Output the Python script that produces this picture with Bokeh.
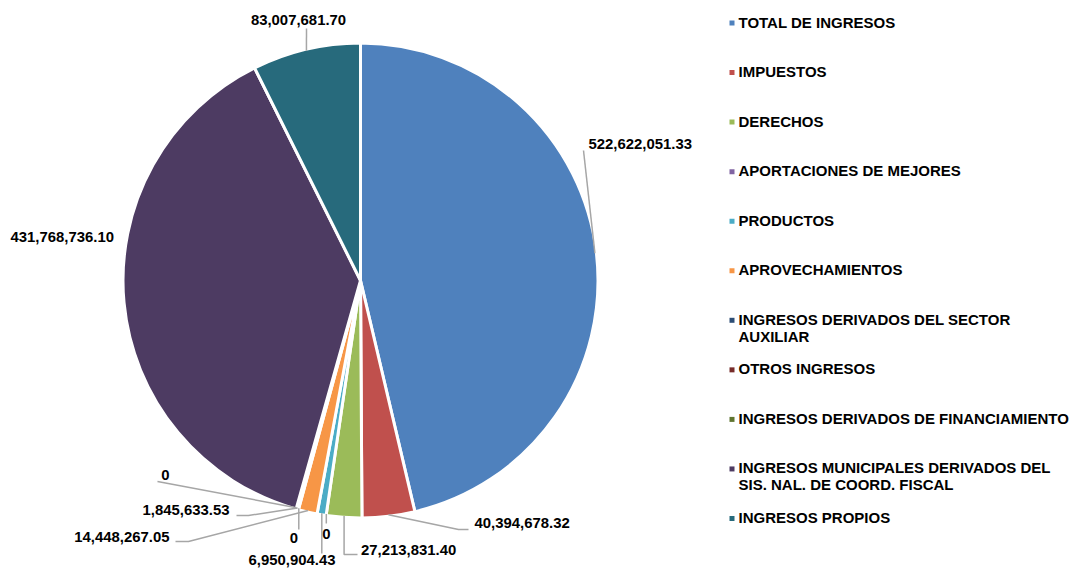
import math
from bokeh.plotting import figure
from bokeh.models import Range1d, ColumnDataSource
from bokeh.core.properties import value
from bokeh.embed import file_html
from bokeh.resources import INLINE

# ---------------- data ----------------
categories = [
    "TOTAL DE INGRESOS",
    "IMPUESTOS",
    "DERECHOS",
    "APORTACIONES DE MEJORES",
    "PRODUCTOS",
    "APROVECHAMIENTOS",
    "INGRESOS DERIVADOS DEL SECTOR\nAUXILIAR",
    "OTROS INGRESOS",
    "INGRESOS DERIVADOS DE FINANCIAMIENTO",
    "INGRESOS MUNICIPALES DERIVADOS DEL\nSIS. NAL. DE COORD. FISCAL",
    "INGRESOS PROPIOS",
]
values = [522622051.33, 40394678.32, 27213831.40, 0, 6950904.43, 14448267.05,
          0, 1845633.53, 0, 431768736.10, 83007681.70]
colors = ["#4F81BD", "#C0504D", "#9BBB59", "#8064A2", "#4BACC6", "#F79646",
          "#2C4D75", "#772C2A", "#5F7530", "#4D3B62", "#276A7C"]

# ---------------- layout ----------------
CX, CY, R = 360.0, 280.0, 236.0
FONT = value("Liberation Sans")
LEADER = "#A6A6A6"
TDY = 6.5  # correction: rendered text sits lower than the given baseline

p = figure(width=1075, height=572, output_backend="svg", toolbar_location=None,
           x_range=Range1d(0, 1075), y_range=Range1d(-572, 0),
           x_axis_location=None, y_axis_location=None, min_border=0,
           outline_line_color=None, background_fill_color="white",
           border_fill_color="white")
p.xgrid.visible = False
p.ygrid.visible = False

total = float(sum(values))
cum = [0.0]
for v in values:
    cum.append(cum[-1] + v / total)

# slices (clockwise from 12 o'clock)
wx, wy, ws, we, wc = [], [], [], [], []
for i, v in enumerate(values):
    if v <= 0:
        continue
    wx.append(CX); wy.append(-CY)
    ws.append(math.pi / 2 - 2 * math.pi * cum[i + 1])
    we.append(math.pi / 2 - 2 * math.pi * cum[i])
    wc.append(colors[i])
p.wedge(x="x", y="y", radius=R + 1.5, start_angle="s", end_angle="e",
        fill_color="c", line_color="white", line_width=3,
        source=ColumnDataSource(dict(x=wx, y=wy, s=ws, e=we, c=wc)))

# data labels: (text x, baseline y, align, leader points after anchor; None => anchor x)
label_layout = [
    (588, 150, "left", [(583, 150)]),
    (474, 529, "left", [(458, 529), (468, 529)]),
    (360.5, 556, "left", [(None, 554), (357, 554)]),
    (326, 540, "center", [(None, 523)]),
    (291.5, 566, "center", [(None, 553)]),
    (169, 543, "right", [(188, 541), (175, 541)]),
    (293.5, 544, "center", [(None, 529)]),
    (229, 516, "right", [(248, 515), (236, 515)]),
    (165, 481, "center", [(157, 481)]),
    (10, 243, "left", []),
    (298, 25.5, "center", [(306, 28)]),
]

lx, ly, lt, la = [], [], [], []
mxs, mys = [], []
for i, v in enumerate(values):
    tx, ty, al, pts = label_layout[i]
    txt = "0" if v == 0 else f"{v:,.2f}"
    lx.append(tx); ly.append(-(ty - TDY)); lt.append(txt); la.append(al)
    if pts:
        mid = (cum[i] + cum[i + 1]) / 2 * 2 * math.pi
        ax = CX + R * math.sin(mid)
        ay = CY - R * math.cos(mid)
        xs, ys = [ax], [-ay]
        for (px, py) in pts:
            xs.append(ax if px is None else px)
            ys.append(-py)
        mxs.append(xs); mys.append(ys)

p.multi_line(xs=mxs, ys=mys, line_color=LEADER, line_width=1.5)
p.text(x="x", y="y", text="t", text_align="a", source=ColumnDataSource(dict(x=lx, y=ly, t=lt, a=la)),
       text_font=FONT, text_font_style="bold", text_font_size="14.9px",
       text_baseline="alphabetic", text_color="#000000")

# legend
gx, gy, gt = [], [], []
sx, sy, sc = [], [], []
for k, name in enumerate(categories):
    base = 28 + 49.55 * k
    sx.append(731.5); sy.append(-(base - 5.5)); sc.append(colors[k])
    for j, line in enumerate(name.split("\n")):
        gx.append(738); gy.append(-(base + 17 * j - TDY)); gt.append(line)
p.rect(x="x", y="y", width=5, height=5, fill_color="c", line_color=None,
       source=ColumnDataSource(dict(x=sx, y=sy, c=sc)))
p.text(x="x", y="y", text="t", source=ColumnDataSource(dict(x=gx, y=gy, t=gt)),
       text_font=FONT, text_font_style="bold", text_font_size="15px",
       text_baseline="alphabetic", text_align="left", text_color="#000000")

open("out.html", "w").write(file_html(p, INLINE))
